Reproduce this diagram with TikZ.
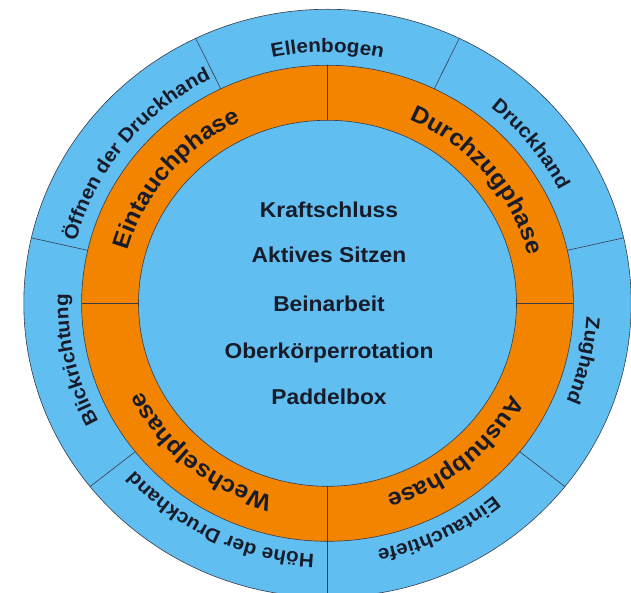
\documentclass[tikz,border=0pt]{standalone}
\usepackage{fontspec}
\setmainfont{Liberation Sans}
\newfontfamily\labelfont[FakeStretch=1.06]{Liberation Sans}
\usetikzlibrary{decorations.text,calc}

\definecolor{ringblue}{RGB}{97,190,240}
\definecolor{ringorange}{RGB}{242,132,0}
\definecolor{inkc}{RGB}{24,28,42}
\definecolor{edgec}{RGB}{55,60,75}

% type settings for the three kinds of text
\newcommand{\outerfmt}{\labelfont\bfseries\fontsize{19.5}{22}\selectfont\color{inkc}}
\newcommand{\phasefmt}{\labelfont\bfseries\fontsize{23.5}{27}\selectfont\color{inkc}}
\newcommand{\centerfmt}{\labelfont\bfseries\fontsize{21.5}{24}\selectfont}

% text set clockwise along an elliptic arc around (C)
% #1 baseline y-radius, #2 middle angle, #3 half span, #4 format, #5 text
\newcommand{\arclabel}[5]{%
  \pgfmathsetmacro{\lblry}{#1}%
  \pgfmathsetmacro{\lblrx}{1.033*#1}%
  \pgfmathsetmacro{\lblsa}{#2+#3}%
  \pgfmathsetmacro{\lblea}{#2-#3}%
  \path[decorate,decoration={text along path,text align=center,text={|#4|#5}}]
    ($(C)+(\lblsa:\lblrx pt and \lblry pt)$)
    arc[start angle=\lblsa,end angle=\lblea,x radius=\lblrx pt,y radius=\lblry pt];
}

\begin{document}
\begin{tikzpicture}[x=1pt,y=1pt,
  edge/.style={draw=edgec,line width=0.6pt},
  centertext/.style={font=\centerfmt,text=inkc,anchor=base,inner sep=0pt}]
\useasboundingbox (0,0) rectangle (631,593);
\clip (0,0) rectangle (631,593);
\coordinate (C) at (327.5,289.7);

% rings
\fill[ringblue] (C) ellipse[x radius=303.7pt,y radius=294pt];
\fill[ringorange] (C) ellipse[x radius=245.9pt,y radius=238pt];
\fill[ringblue] (C) ellipse[x radius=189pt,y radius=183pt];
\draw[edge] (C) ellipse[x radius=303.7pt,y radius=294pt];
\draw[edge] (C) ellipse[x radius=245.9pt,y radius=238pt];
\draw[edge] (C) ellipse[x radius=189pt,y radius=183pt];

% seven segments of the outer ring
\foreach \a in {64.286,12.857,-38.571,-90,-141.429,167.143,115.714}
  \draw[edge] ($(C)+(\a:245.9pt and 238pt)$) -- ($(C)+(\a:303.7pt and 294pt)$);
% four phases of the middle ring
\foreach \a in {0,90,180,270}
  \draw[edge] ($(C)+(\a:189pt and 183pt)$) -- ($(C)+(\a:245.9pt and 238pt)$);

% outer ring labels
\arclabel{251}{90}{40}{\outerfmt}{Ellenbogen}
\arclabel{251}{38.571}{40}{\outerfmt}{Druckhand}
\arclabel{251}{-12.857}{40}{\outerfmt}{Zughand}
\arclabel{251}{-64.286}{40}{\outerfmt}{Eintauchtiefe}
\arclabel{251}{-115.714}{40}{\outerfmt}{Höhe der Druckhand}
\arclabel{251}{192.857}{40}{\outerfmt}{Blickrichtung}
\arclabel{251}{141.429}{40}{\outerfmt}{Öffnen der Druckhand}

% phase labels
\arclabel{200}{140}{44}{\phasefmt}{Eintauchphase}
\arclabel{200}{40}{44}{\phasefmt}{Durchzugphase}
\arclabel{200}{-50}{44}{\phasefmt}{Aushubphase}
\arclabel{200}{230}{44}{\phasefmt}{Wechselphase}

% centre list
\node[centertext] (kraft) at (329,375.7) {Kraftschluss};
\node[centertext] (sitzen) at (329,330.3) {Aktives Sitzen};
\node[centertext] (bein) at (329,281.3) {Beinarbeit};
\node[centertext] (rot) at (329,234.7) {Oberkörperrotation};
\node[centertext] (box) at (329,188) {Paddelbox};
\end{tikzpicture}
\end{document}
